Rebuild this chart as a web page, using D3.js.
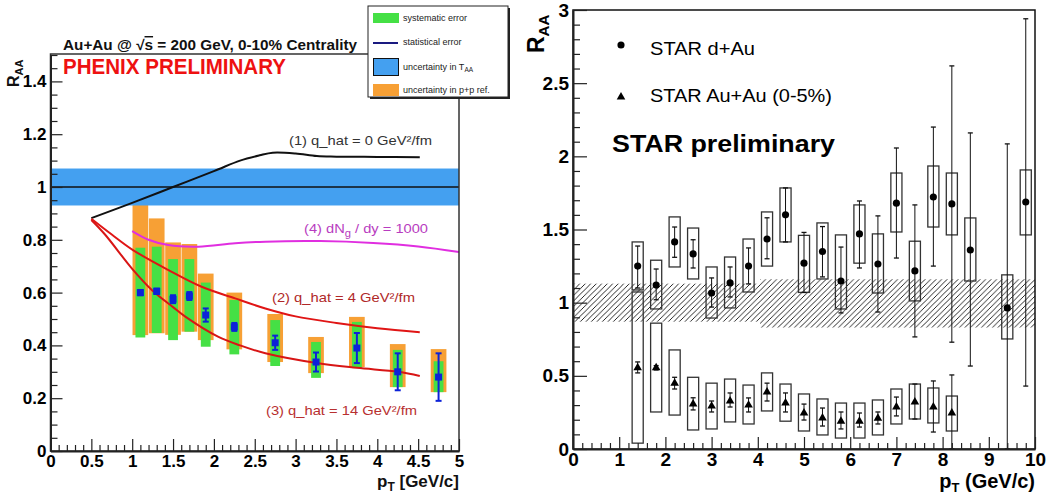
<!DOCTYPE html>
<html><head><meta charset="utf-8">
<script src="https://cdn.jsdelivr.net/npm/d3@7"></script>
<style>body{margin:0;background:#fff}svg{display:block}</style>
</head><body><svg id="c" width="1048" height="497"></svg>
<script>
// ---------- LEFT PANEL DATA (PHENIX) ----------
const phenixPt   = [1.1, 1.3, 1.5, 1.7, 1.9, 2.25, 2.75, 3.25, 3.75, 4.25, 4.75];
const phenixRaa  = [0.60, 0.605, 0.575, 0.587, 0.515, 0.47, 0.41, 0.337, 0.39, 0.30, 0.28];
const phenixStat = [0.01, 0.01, 0.015, 0.015, 0.025, 0.015, 0.027, 0.036, 0.057, 0.07, 0.09];
const phenixSysLo = [0.43, 0.447, 0.42, 0.452, 0.395, 0.366, 0.322, 0.277, 0.314, 0.242, 0.223];
const phenixSysHi = [0.77, 0.774, 0.727, 0.727, 0.638, 0.572, 0.496, 0.413, 0.489, 0.383, 0.34];
const phenixPpLo = [0.439, 0.446, 0.44, 0.452, 0.42, 0.385, 0.337, 0.295, 0.318, 0.242, 0.223];
const phenixPpHi = [0.932, 0.881, 0.79, 0.784, 0.672, 0.6, 0.519, 0.432, 0.508, 0.405, 0.386];
const taaLo = 0.93, taaHi = 1.07;

const curve1Pt  = [0.5, 1.0, 1.5, 2.0, 2.32, 2.56, 2.72, 3.0, 3.26, 3.5, 4.0, 4.52];
const curve1Raa = [0.882, 0.94, 1.0, 1.06, 1.1, 1.12, 1.13, 1.127, 1.117, 1.115, 1.114, 1.113];
const curve2Pt  = [0.5, 0.75, 1.01, 1.44, 1.85, 2.26, 2.63, 3.0, 3.5, 4.0, 4.52];
const curve2Raa = [0.88, 0.82, 0.761, 0.686, 0.622, 0.578, 0.54, 0.51, 0.485, 0.465, 0.45];
const curve3Pt  = [0.5, 0.667, 1.0, 1.24, 1.5, 1.65, 2.05, 2.32, 2.63, 3.26, 3.75, 4.26, 4.52];
const curve3Raa = [0.875, 0.82, 0.69, 0.61, 0.545, 0.509, 0.433, 0.40, 0.37, 0.333, 0.315, 0.30, 0.284];
const curve4Pt  = [1.0, 1.2, 1.44, 1.81, 2.26, 2.63, 3.3, 3.95, 4.5, 5.0];
const curve4Raa = [0.833, 0.80, 0.78, 0.774, 0.787, 0.793, 0.795, 0.788, 0.775, 0.754];

const leftYTicks = [0, 0.2, 0.4, 0.6, 0.8, 1, 1.2, 1.4];
const leftXTicks = [0, 0.5, 1, 1.5, 2, 2.5, 3, 3.5, 4, 4.5, 5];

// ---------- RIGHT PANEL DATA (STAR) ----------
const dauPt  = [1.4, 1.8, 2.2, 2.6, 3.0, 3.4, 3.8, 4.2, 4.6, 5.0, 5.4, 5.8, 6.2, 6.6, 7.0, 7.4, 7.8, 8.2, 8.6, 9.4, 9.8];
const dauRaa = [1.25, 1.12, 1.415, 1.333, 1.066, 1.135, 1.25, 1.435, 1.6, 1.27, 1.35, 1.148, 1.47, 1.264, 1.68, 1.217, 1.722, 1.675, 1.36, 0.964, 1.688];
const dauBoxLo = [1.087, 0.957, 1.244, 1.162, 0.895, 0.964, 1.073, 1.25, 1.415, 1.07, 1.162, 0.957, 1.27, 1.066, 1.483, 1.012, 1.517, 1.463, 1.148, 0.752, 1.463];
const dauBoxHi = [1.415, 1.29, 1.586, 1.51, 1.244, 1.312, 1.435, 1.62, 1.784, 1.46, 1.545, 1.463, 1.668, 1.47, 1.886, 1.42, 1.934, 1.886, 1.579, 1.19, 1.907];
const dauErrLo = [1.1, 1.02, 1.31, 1.237, 0.97, 1.039, 1.128, 1.3, 1.415, 1.07, 1.176, 0.93, 1.237, 0.936, 1.305, 0.766, 1.25, 0.73, 0.567, 0, 0.43];
const dauErrHi = [1.387, 1.23, 1.517, 1.43, 1.169, 1.244, 1.374, 1.58, 1.784, 1.48, 1.52, 1.38, 1.695, 1.593, 2.057, 1.668, 2.2, 2.618, 2.16, 2.085, 2.94];

const auPt  = [1.4, 1.8, 2.2, 2.6, 3.0, 3.4, 3.8, 4.2, 4.6, 5.0, 5.4, 5.8, 6.2, 6.6, 7.0, 7.4, 7.8, 8.2];
const auRaa = [0.555, 0.555, 0.45, 0.307, 0.293, 0.328, 0.30, 0.39, 0.314, 0.246, 0.212, 0.19, 0.19, 0.21, 0.287, 0.321, 0.287, 0.246];
const auBoxLo = [0.04, 0.253, 0.232, 0.13, 0.137, 0.185, 0.171, 0.26, 0.19, 0.123, 0.096, 0.075, 0.075, 0.096, 0.171, 0.205, 0.178, 0.123];
const auBoxHi = [1.073, 0.86, 0.677, 0.49, 0.45, 0.478, 0.437, 0.52, 0.444, 0.376, 0.342, 0.314, 0.314, 0.335, 0.41, 0.444, 0.417, 0.362];
const auErrLo = [0.52, 0.54, 0.41, 0.267, 0.253, 0.287, 0.253, 0.328, 0.253, 0.198, 0.157, 0.137, 0.15, 0.171, 0.226, 0.205, 0.116, 0];
const auErrHi = [0.595, 0.57, 0.49, 0.35, 0.328, 0.383, 0.349, 0.45, 0.383, 0.307, 0.28, 0.253, 0.246, 0.253, 0.355, 0.444, 0.465, 0.506];

const bandFrom = [0, 4.05];
const bandTo   = [4.05, 10];
const bandLo   = [0.87, 0.83];
const bandHi   = [1.13, 1.16];

const rightYTicks = [0, 0.5, 1, 1.5, 2, 2.5, 3];
const rightXTicks = [0, 1, 2, 3, 4, 5, 6, 7, 8, 9, 10];

// ---------- DRAWING ----------
const FONT = '"Liberation Sans", Arial, Helvetica, sans-serif';
const svg = d3.select("#c").attr("font-family", FONT);
const fmt = d => String(+(+d).toFixed(2));

function minorVals(lo, hi, step, majors) {
  const out = [];
  for (let v = lo; v <= hi + 1e-9; v += step) {
    const r = +v.toFixed(4);
    if (!majors.some(m => Math.abs(m - r) < 1e-6)) out.push(r);
  }
  return out;
}
function styleAxis(g, size) {
  g.attr("font-family", null).attr("font-size", null);
  g.selectAll("text").attr("font-family", FONT).attr("font-weight", "bold")
    .attr("font-size", size).attr("fill", "#000");
  g.selectAll(".tick line").attr("stroke", "#222").attr("stroke-width", 1.2);
  g.select(".domain").attr("stroke", "#222").attr("stroke-width", 2);
}

// ===== LEFT =====
const xL = d3.scaleLinear([0, 5], [50.5, 459]);
const yL = d3.scaleLinear([0, 1.5], [451, 55]);
const gL = svg.append("g");

// orange p+p uncertainty
gL.selectAll("rect.pp").data(phenixPt).join("rect").attr("class", "pp")
  .attr("x", d => xL(d - 0.096)).attr("width", xL(0.192) - xL(0))
  .attr("y", (d, i) => yL(phenixPpHi[i])).attr("height", (d, i) => yL(phenixPpLo[i]) - yL(phenixPpHi[i]))
  .attr("fill", "#f7a035");
// green systematic
gL.selectAll("rect.sys").data(phenixPt).join("rect").attr("class", "sys")
  .attr("x", d => xL(d - 0.06)).attr("width", xL(0.12) - xL(0))
  .attr("y", (d, i) => yL(phenixSysHi[i])).attr("height", (d, i) => yL(phenixSysLo[i]) - yL(phenixSysHi[i]))
  .attr("fill", "#45e045");
// T_AA band
gL.append("rect").attr("x", xL(0)).attr("width", xL(5) - xL(0))
  .attr("y", yL(taaHi)).attr("height", yL(taaLo) - yL(taaHi)).attr("fill", "#44a0f0");
gL.append("line").attr("x1", xL(0)).attr("x2", xL(5)).attr("y1", yL(1)).attr("y2", yL(1))
  .attr("stroke", "#111").attr("stroke-width", 1.6);

// curves
const lineL = d3.line().x(d => xL(d[0])).y(d => yL(d[1])).curve(d3.curveCatmullRom);
const curves = [
  [curve1Pt, curve1Raa, "#111"],
  [curve4Pt, curve4Raa, "#e02ee0"],
  [curve2Pt, curve2Raa, "#e01515"],
  [curve3Pt, curve3Raa, "#d81515"]
];
curves.forEach(([p, r, c]) => {
  gL.append("path").datum(p.map((v, i) => [v, r[i]])).attr("d", lineL)
    .attr("fill", "none").attr("stroke", c).attr("stroke-width", 2);
});

// curve labels
function curveLabel(x, y, color, parts, len) {
  const t = gL.append("text").attr("x", x).attr("y", y).attr("fill", color)
    .attr("font-size", 13).attr("textLength", len).attr("lengthAdjust", "spacingAndGlyphs");
  parts.forEach(p => {
    const ts = t.append("tspan").text(p.t);
    if (p.dy) ts.attr("dy", p.dy);
    if (p.fs) ts.attr("font-size", p.fs);
  });
}
curveLabel(289, 145, "#333", [{t: "(1) q_hat = 0 GeV²/fm"}], 143);
curveLabel(304, 233, "#b83cc0", [{t: "(4) dN"}, {t: "g", dy: 4, fs: 10}, {t: " / dy = 1000", dy: -4}], 124);
curveLabel(272, 302, "#b02828", [{t: "(2) q_hat = 4 GeV²/fm"}], 143);
curveLabel(266, 415, "#b83030", [{t: "(3) q_hat = 14 GeV²/fm"}], 151);

// data points with stat errors
const BLUE = "#0c22d8";
phenixPt.forEach((p, i) => {
  const x = xL(p), lo = yL(phenixRaa[i] - phenixStat[i]), hi = yL(phenixRaa[i] + phenixStat[i]);
  gL.append("line").attr("x1", x).attr("x2", x).attr("y1", lo).attr("y2", hi).attr("stroke", BLUE).attr("stroke-width", 2);
  [lo, hi].forEach(yy => gL.append("line").attr("x1", x - 3).attr("x2", x + 3).attr("y1", yy).attr("y2", yy)
    .attr("stroke", BLUE).attr("stroke-width", 2));
  gL.append("rect").attr("x", x - 3.5).attr("y", yL(phenixRaa[i]) - 3.5).attr("width", 7).attr("height", 7).attr("fill", BLUE);
});

// frame
gL.append("rect").attr("x", xL(0)).attr("y", yL(1.5) - 1).attr("width", xL(5) - xL(0)).attr("height", yL(0) - yL(1.5) + 1)
  .attr("fill", "none").attr("stroke", "#333").attr("stroke-width", 1.5);

// axes
gL.append("g").attr("transform", `translate(${xL(0)},0)`)
  .call(d3.axisLeft(yL).tickValues(leftYTicks).tickSizeInner(-12).tickSizeOuter(0).tickPadding(4).tickFormat(fmt))
  .call(g => styleAxis(g, 17));
gL.append("g").attr("transform", `translate(${xL(0)},0)`)
  .call(d3.axisLeft(yL).tickValues(minorVals(0, 1.5, 0.05, leftYTicks)).tickSizeInner(-7).tickSizeOuter(0).tickFormat(""))
  .call(g => { styleAxis(g, 17); g.select(".domain").remove(); });
gL.append("g").attr("transform", `translate(0,${yL(0)})`)
  .call(d3.axisBottom(xL).tickValues(leftXTicks).tickSizeInner(-12).tickSizeOuter(0).tickPadding(4).tickFormat(fmt))
  .call(g => styleAxis(g, 17));
gL.append("g").attr("transform", `translate(0,${yL(0)})`)
  .call(d3.axisBottom(xL).tickValues(minorVals(0, 5, 0.1, leftXTicks)).tickSizeInner(-6).tickSizeOuter(0).tickFormat(""))
  .call(g => { styleAxis(g, 17); g.select(".domain").remove(); });

// axis titles
{
  const t = gL.append("text").attr("transform", "translate(19,87) rotate(-90)")
    .attr("font-weight", "bold").attr("font-size", 16).attr("fill", "#111");
  t.append("tspan").text("R");
  t.append("tspan").text("AA").attr("font-size", 11).attr("dy", 4);
  const tx = gL.append("text").attr("x", xL(5)).attr("y", 487).attr("text-anchor", "end")
    .attr("font-weight", "bold").attr("font-size", 17).attr("fill", "#111");
  tx.append("tspan").text("p");
  tx.append("tspan").text("T").attr("font-size", 12).attr("dy", 4);
  tx.append("tspan").text(" [GeV/c]").attr("dy", -4);
}
// title texts
{
  const t = gL.append("text").attr("x", 63).attr("y", 50).attr("font-weight", "bold").attr("font-size", 14.5).attr("fill", "#111")
    .attr("textLength", 294).attr("lengthAdjust", "spacingAndGlyphs");
  t.append("tspan").text("Au+Au @ √");
  t.append("tspan").text("s").attr("text-decoration", "overline");
  t.append("tspan").text(" = 200 GeV, 0-10% Centrality");
  gL.append("text").attr("x", 63).attr("y", 74).attr("font-weight", "bold").attr("font-size", 22)
    .attr("fill", "#ee1111").attr("textLength", 223).attr("lengthAdjust", "spacingAndGlyphs").text("PHENIX PRELIMINARY");
}
// legend box
{
  const lg = gL.append("g");
  lg.append("rect").attr("x", 370).attr("y", 8).attr("width", 140).attr("height", 91).attr("fill", "#222");
  lg.append("rect").attr("x", 368).attr("y", 6).attr("width", 140).attr("height", 91).attr("fill", "#fff")
    .attr("stroke", "#222").attr("stroke-width", 1);
  lg.append("rect").attr("x", 373).attr("y", 13).attr("width", 26).attr("height", 10).attr("fill", "#45e045");
  lg.append("line").attr("x1", 373).attr("x2", 398).attr("y1", 43).attr("y2", 43).attr("stroke", "#1a1a80").attr("stroke-width", 2);
  lg.append("rect").attr("x", 373.5).attr("y", 58.5).attr("width", 25).attr("height", 17).attr("fill", "#44a0f0")
    .attr("stroke", "#111").attr("stroke-width", 1);
  lg.append("rect").attr("x", 373).attr("y", 84).attr("width", 26).attr("height", 12).attr("fill", "#f7a035");
  const lt = (y, parts) => {
    const t = lg.append("text").attr("x", 403).attr("y", y).attr("font-size", 9).attr("fill", "#222");
    parts.forEach(p => { const s = t.append("tspan").text(p.t); if (p.dy) s.attr("dy", p.dy); if (p.fs) s.attr("font-size", p.fs); });
  };
  lt(21, [{t: "systematic error"}]);
  lt(45, [{t: "statistical error"}]);
  lt(70, [{t: "uncertainty in T"}, {t: "AA", dy: 2, fs: 6.5}]);
  lt(93, [{t: "uncertainty in p+p ref."}]);
}

// ===== RIGHT =====
const xR = d3.scaleLinear([0, 10], [573, 1035]);
const yR = d3.scaleLinear([0, 3], [449, 10]);
const gR = svg.append("g");

const defs = svg.append("defs");
defs.append("pattern").attr("id", "hatch").attr("patternUnits", "userSpaceOnUse")
  .attr("width", 5.5).attr("height", 5.5)
  .append("path").attr("d", "M-1,1 l2,-2 M0,5.5 l5.5,-5.5 M4.5,6.5 l2,-2")
  .attr("stroke", "#111").attr("stroke-width", 0.9);

gR.selectAll("rect.band").data(bandFrom).join("rect").attr("class", "band")
  .attr("x", (d) => xR(d)).attr("width", (d, i) => xR(bandTo[i]) - xR(d))
  .attr("y", (d, i) => yR(bandHi[i])).attr("height", (d, i) => yR(bandLo[i]) - yR(bandHi[i]))
  .attr("fill", "url(#hatch)");

function starSeries(pt, raa, bLo, bHi, eLo, eHi, sym) {
  const g = gR.append("g");
  pt.forEach((p, i) => {
    const x = xR(p);
    g.append("rect").attr("x", xR(p - 0.12)).attr("width", xR(0.24) - xR(0))
      .attr("y", yR(bHi[i])).attr("height", yR(bLo[i]) - yR(bHi[i]))
      .attr("fill", "none").attr("stroke", "#333").attr("stroke-width", 1.3);
    g.append("line").attr("x1", x).attr("x2", x).attr("y1", yR(eLo[i])).attr("y2", yR(eHi[i]))
      .attr("stroke", "#111").attr("stroke-width", 1);
    [eLo[i], eHi[i]].forEach(v => g.append("line").attr("x1", x - 2.5).attr("x2", x + 2.5)
      .attr("y1", yR(v)).attr("y2", yR(v)).attr("stroke", "#111").attr("stroke-width", 1.3));
    g.append("path").attr("transform", `translate(${x},${yR(raa[i])})`)
      .attr("d", d3.symbol().type(sym).size(sym === d3.symbolCircle ? 40 : 32)()).attr("fill", "#000");
  });
}
starSeries(dauPt, dauRaa, dauBoxLo, dauBoxHi, dauErrLo, dauErrHi, d3.symbolCircle);
starSeries(auPt, auRaa, auBoxLo, auBoxHi, auErrLo, auErrHi, d3.symbolTriangle);

// frame
gR.append("rect").attr("x", xR(0)).attr("y", yR(3)).attr("width", xR(10) - xR(0)).attr("height", yR(0) - yR(3))
  .attr("fill", "none").attr("stroke", "#111").attr("stroke-width", 1.5);

gR.append("g").attr("transform", `translate(${xR(0)},0)`)
  .call(d3.axisLeft(yR).tickValues(rightYTicks).tickSizeInner(-14).tickSizeOuter(0).tickPadding(4).tickFormat(fmt))
  .call(g => styleAxis(g, 19));
gR.append("g").attr("transform", `translate(${xR(0)},0)`)
  .call(d3.axisLeft(yR).tickValues(minorVals(0, 3, 0.1, rightYTicks)).tickSizeInner(-7).tickSizeOuter(0).tickFormat(""))
  .call(g => { styleAxis(g, 19); g.select(".domain").remove(); });
gR.append("g").attr("transform", `translate(0,${yR(0)})`)
  .call(d3.axisBottom(xR).tickValues(rightXTicks).tickSizeInner(-12).tickSizeOuter(0).tickPadding(4).tickFormat(fmt))
  .call(g => styleAxis(g, 19));
gR.append("g").attr("transform", `translate(0,${yR(0)})`)
  .call(d3.axisBottom(xR).tickValues(minorVals(0, 10, 0.2, rightXTicks)).tickSizeInner(-6).tickSizeOuter(0).tickFormat(""))
  .call(g => { styleAxis(g, 19); g.select(".domain").remove(); });

{
  const t = gR.append("text").attr("transform", "translate(544,53) rotate(-90)")
    .attr("font-weight", "bold").attr("font-size", 23).attr("fill", "#000");
  t.append("tspan").text("R");
  t.append("tspan").text("AA").attr("font-size", 15).attr("dy", 5);
  const tx = gR.append("text").attr("x", xR(10)).attr("y", 488).attr("text-anchor", "end")
    .attr("font-weight", "bold").attr("font-size", 20).attr("fill", "#000");
  tx.append("tspan").text("p");
  tx.append("tspan").text("T").attr("font-size", 13).attr("dy", 4);
  tx.append("tspan").text(" (GeV/c)").attr("dy", -4);
}
// legend
gR.append("path").attr("transform", "translate(621,45)").attr("d", d3.symbol().type(d3.symbolCircle).size(40)()).attr("fill", "#000");
gR.append("path").attr("transform", "translate(621,97)").attr("d", d3.symbol().type(d3.symbolTriangle).size(32)()).attr("fill", "#000");
gR.append("text").attr("x", 650).attr("y", 55).attr("font-size", 19).attr("fill", "#000")
  .attr("textLength", 105).attr("lengthAdjust", "spacingAndGlyphs").text("STAR d+Au");
gR.append("text").attr("x", 650).attr("y", 102).attr("font-size", 19).attr("fill", "#000")
  .attr("textLength", 182).attr("lengthAdjust", "spacingAndGlyphs").text("STAR Au+Au (0-5%)");
gR.append("text").attr("x", 612).attr("y", 152).attr("font-size", 23).attr("font-weight", "bold").attr("fill", "#000")
  .attr("textLength", 223).attr("lengthAdjust", "spacingAndGlyphs").text("STAR preliminary");
</script></body></html>
